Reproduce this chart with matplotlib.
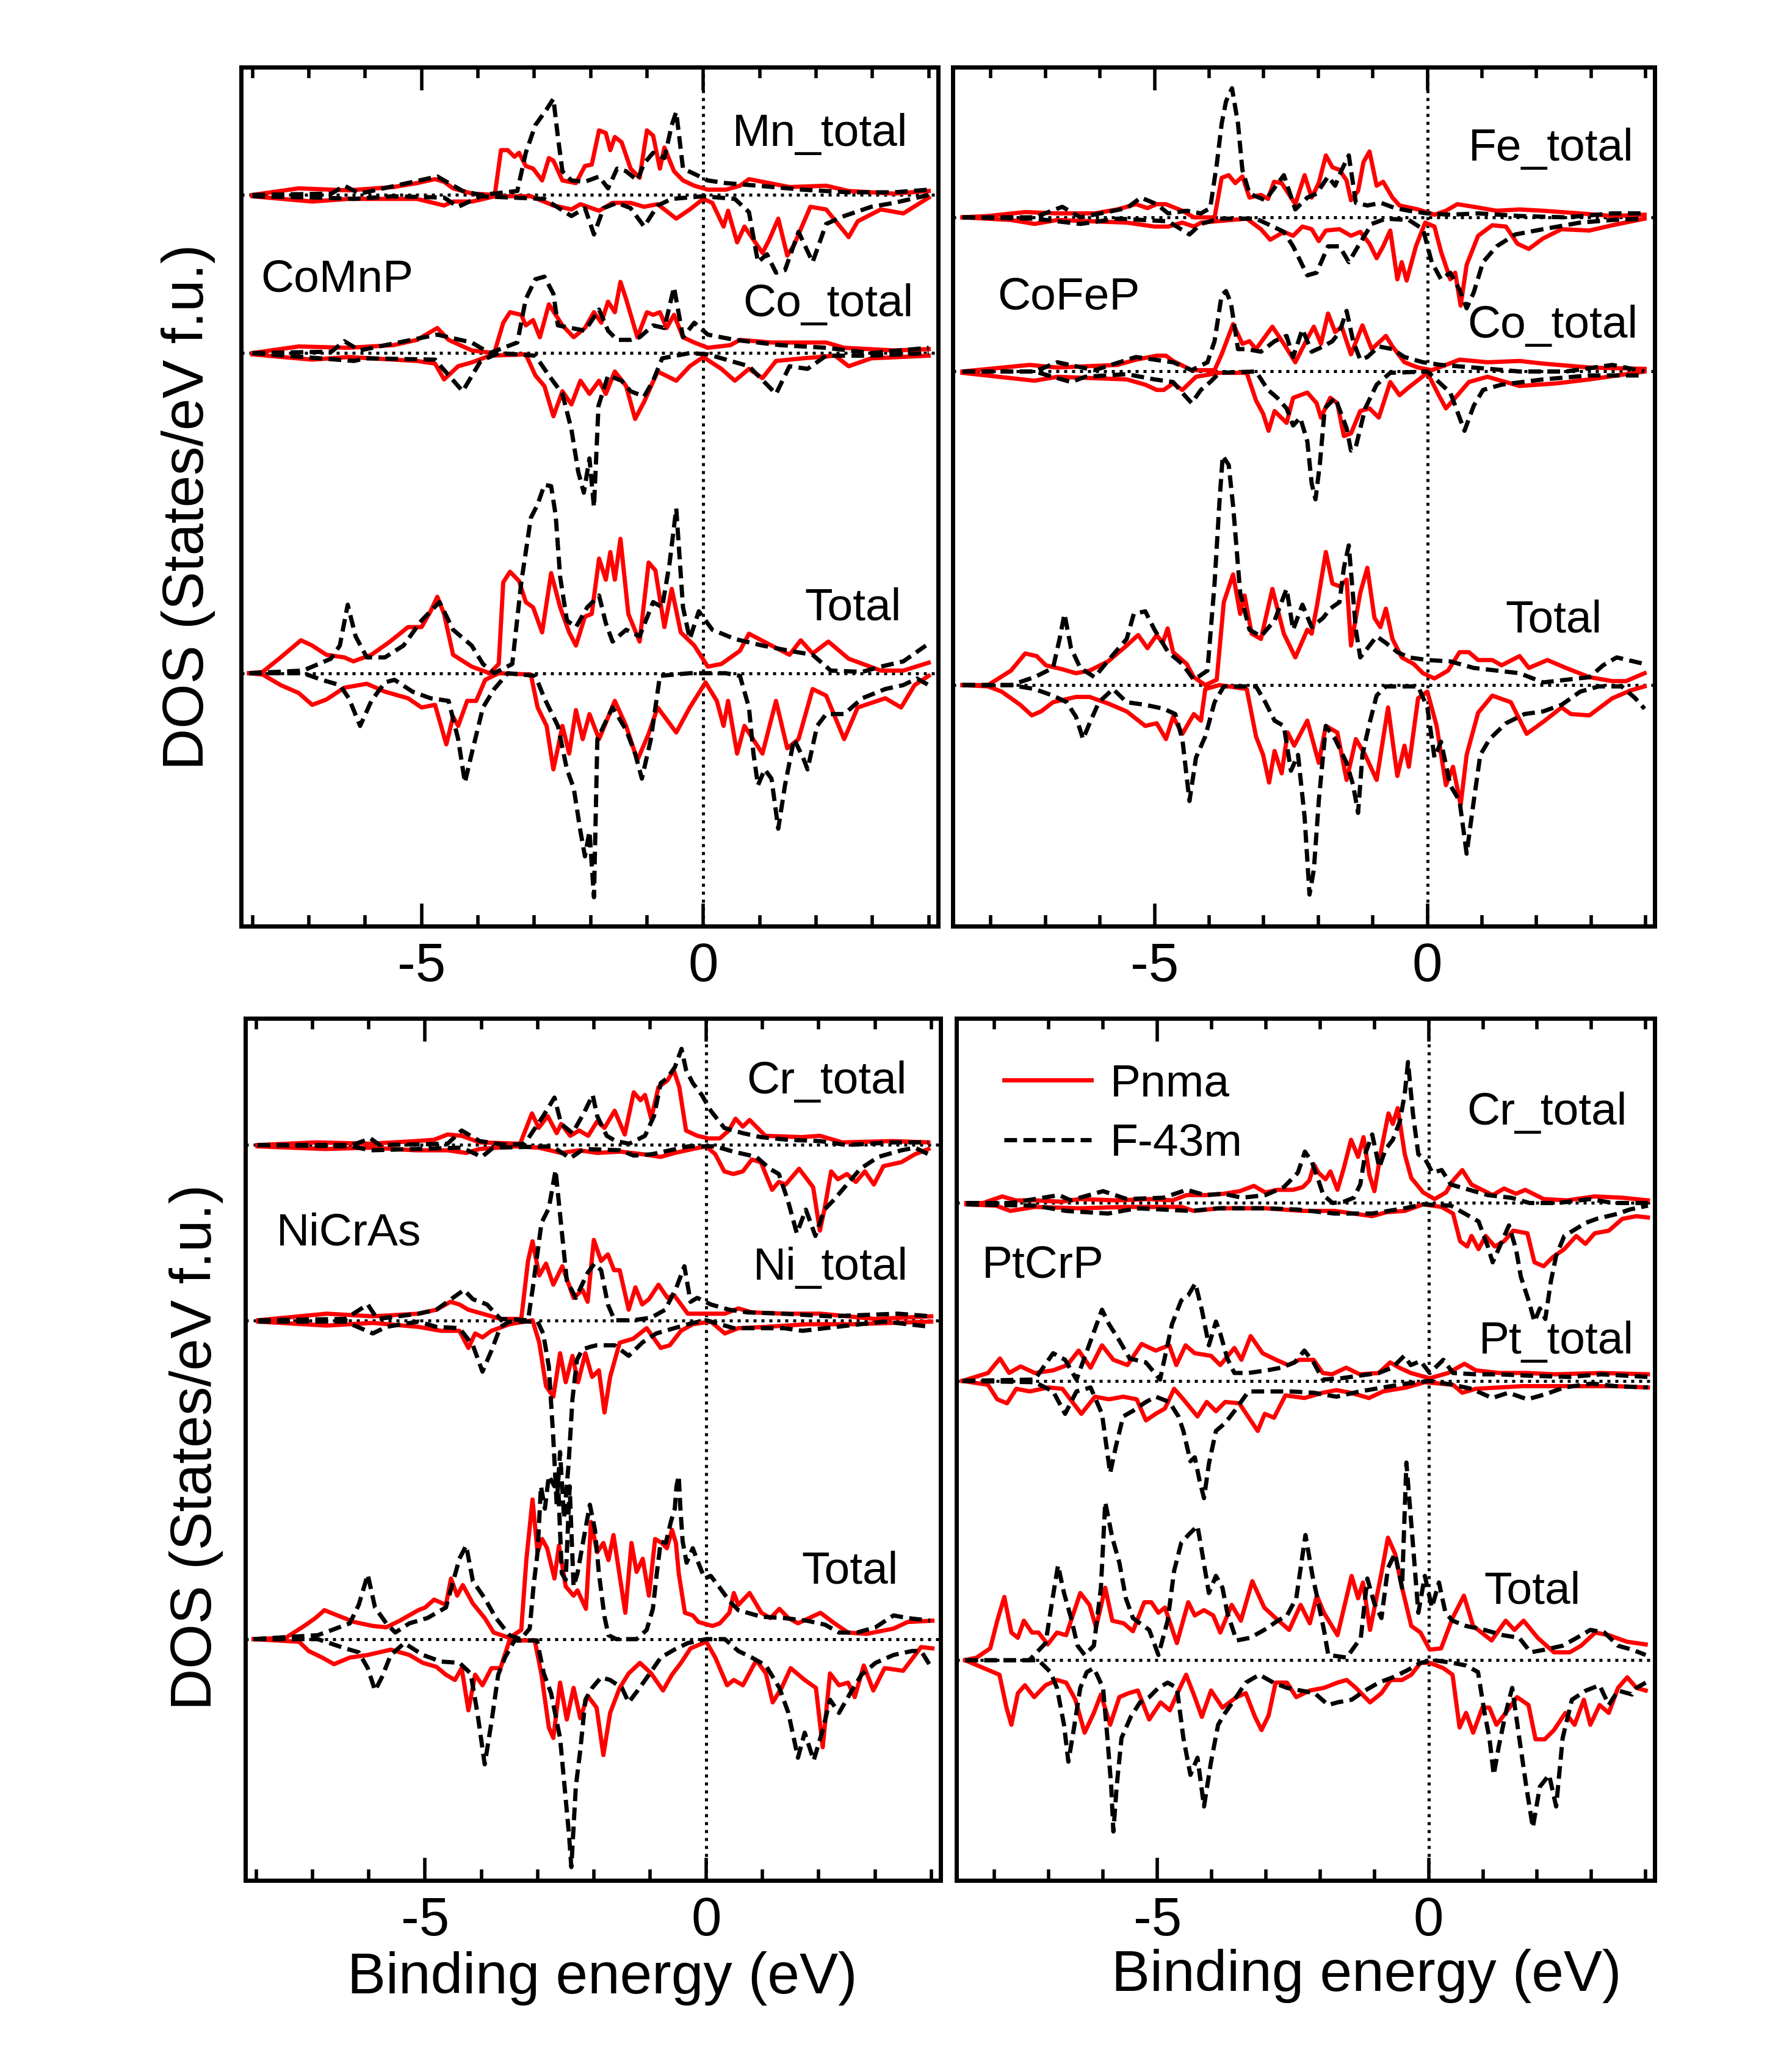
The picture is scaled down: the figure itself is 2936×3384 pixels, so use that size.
import numpy as np
import matplotlib
matplotlib.use('Agg')
import matplotlib.pyplot as plt
from matplotlib.ticker import MultipleLocator
from matplotlib.lines import Line2D

plt.rcParams['font.family'] = ['Liberation Sans', 'DejaVu Sans']
plt.rcParams['axes.unicode_minus'] = False

# ---- data: (energy eV, DOS arb. units), spin-down given as magnitude ----
# CoMnP
comnp_mn_pnma_up = [(-8.0,0),(-7.18,5),(-6.3,3.5),(-5.5,6),(-5.08,9),(-4.76,12),(-4.6,10),(-4.44,5),(-4.1,1),(-3.7,0),(-3.59,34),(-3.47,34),(-3.35,29),(-3.27,32),(-3.15,22),(-3.02,20),(-2.86,11),(-2.74,28),(-2.66,26),(-2.5,11),(-2.26,9),(-2.1,22),(-1.98,23),(-1.85,49),(-1.73,47),(-1.65,34),(-1.57,44),(-1.45,40),(-1.29,20),(-1.13,13),(-1.0,49),(-0.89,45),(-0.77,20),(-0.69,36),(-0.52,18),(-0.36,11),(-0.16,7),(0.08,4),(0.4,4),(0.65,7),(0.81,12),(1.05,10),(1.53,6),(2.18,7),(2.58,3),(3.39,1),(4.0,3)]
comnp_mn_pnma_dn = [(-8.0,1),(-6.94,5),(-6.3,3),(-5.08,3),(-4.6,8),(-4.44,5),(-4.1,5),(-3.7,1),(-3.06,1),(-2.66,8),(-2.34,11),(-2.18,7),(-1.85,12),(-1.61,6),(-1.29,6),(-1.05,9),(-0.81,7),(-0.48,18),(-0.24,11),(0.0,3),(0.16,6),(0.36,24),(0.44,12),(0.6,36),(0.73,24),(1.05,44),(1.17,34),(1.33,18),(1.49,46),(1.61,38),(1.9,9),(2.18,11),(2.58,32),(2.74,20),(3.15,11),(3.55,14),(4.0,2)]
comnp_mn_f43m_up = [(-8.0,0),(-6.6,1),(-6.37,7),(-6.1,1),(-4.72,14),(-4.27,3),(-3.95,0),(-3.3,3),(-3.15,32),(-2.98,53),(-2.78,65),(-2.66,73),(-2.58,44),(-2.5,18),(-2.34,11),(-2.1,10),(-1.85,14),(-1.69,5),(-1.53,20),(-1.37,18),(-1.17,11),(-1.05,24),(-0.89,32),(-0.69,28),(-0.56,53),(-0.48,63),(-0.36,20),(-0.16,16),(0.08,11),(0.4,9),(0.97,7),(1.77,4),(2.58,2),(3.39,2),(4.0,4)]
comnp_mn_f43m_dn = [(-8.0,1),(-6.8,2),(-6.2,3),(-5.5,1),(-4.6,2),(-4.35,9),(-3.95,1),(-2.82,3),(-2.34,16),(-2.1,10),(-1.94,30),(-1.77,10),(-1.53,6),(-1.29,10),(-1.05,24),(-0.81,8),(-0.56,3),(0.0,1),(0.56,3),(0.81,13),(0.97,51),(1.13,45),(1.29,59),(1.45,57),(1.69,28),(1.94,51),(2.18,22),(2.5,16),(2.98,9),(3.39,6),(4.0,0)]
comnp_co_pnma_up = [(-8.0,0),(-7.18,5),(-6.3,4),(-5.5,6),(-5.08,10),(-4.72,19),(-4.52,10),(-4.11,2),(-3.71,0),(-3.55,23),(-3.43,31),(-3.23,29),(-3.15,21),(-3.02,25),(-2.9,12),(-2.74,37),(-2.62,29),(-2.5,21),(-2.3,12),(-2.1,19),(-1.94,31),(-1.81,23),(-1.69,39),(-1.57,31),(-1.47,54),(-1.37,41),(-1.17,12),(-1.0,31),(-0.89,29),(-0.77,31),(-0.65,19),(-0.52,29),(-0.36,12),(-0.16,8),(0.08,4),(0.48,6),(0.65,10),(1.21,8),(1.69,8),(2.18,8),(2.5,4),(3.39,2),(4.0,3)]
comnp_co_pnma_dn = [(-8.0,1),(-6.94,5),(-6.3,3),(-5.08,6),(-4.76,8),(-4.6,20),(-4.35,10),(-4.1,7),(-3.79,2),(-3.15,1),(-2.98,17),(-2.82,25),(-2.66,48),(-2.5,29),(-2.34,39),(-2.18,21),(-2.02,31),(-1.85,21),(-1.73,31),(-1.57,14),(-1.37,25),(-1.21,50),(-1.05,37),(-0.81,14),(-0.48,21),(-0.24,10),(0.0,3),(0.32,12),(0.56,21),(0.81,12),(1.05,19),(1.29,6),(1.77,4),(2.34,2),(2.58,10),(2.98,4),(4.0,2)]
comnp_co_f43m_up = [(-8.0,0),(-6.6,1),(-6.37,9),(-6.1,2),(-4.72,14),(-4.11,8),(-3.79,0),(-3.3,8),(-3.15,41),(-2.98,56),(-2.82,58),(-2.66,45),(-2.58,21),(-2.34,19),(-2.1,17),(-1.85,33),(-1.69,17),(-1.53,10),(-1.29,10),(-1.13,12),(-0.89,21),(-0.69,19),(-0.52,50),(-0.36,12),(-0.16,23),(0.08,14),(0.56,10),(1.37,6),(2.18,4),(2.98,0),(4.0,4)]
comnp_co_f43m_dn = [(-8.0,0),(-6.2,6),(-6.0,4),(-4.76,5),(-4.27,29),(-3.95,6),(-3.63,0),(-2.98,2),(-2.74,17),(-2.5,31),(-2.34,58),(-2.22,90),(-2.12,106),(-2.02,80),(-1.94,117),(-1.86,40),(-1.69,17),(-1.45,21),(-1.29,29),(-1.05,33),(-0.89,21),(-0.73,4),(-0.24,0),(0.08,1),(0.81,10),(1.29,31),(1.53,10),(1.85,12),(2.18,2),(2.98,2),(4.0,0)]
comnp_tot_pnma_up = [(-8.06,0),(-7.82,1),(-7.5,12),(-7.14,25),(-6.94,21),(-6.69,14),(-6.37,12),(-6.21,9),(-5.89,14),(-5.56,24),(-5.24,35),(-5.0,35),(-4.84,47),(-4.72,58),(-4.6,45),(-4.44,14),(-4.11,5),(-3.79,0),(-3.63,7),(-3.55,69),(-3.43,77),(-3.27,70),(-3.15,54),(-3.02,50),(-2.86,31),(-2.7,76),(-2.54,50),(-2.38,31),(-2.26,21),(-2.1,43),(-1.98,45),(-1.85,87),(-1.73,71),(-1.65,92),(-1.57,71),(-1.47,102),(-1.33,45),(-1.13,24),(-0.97,84),(-0.85,78),(-0.69,35),(-0.56,64),(-0.4,31),(-0.16,21),(0.08,5),(0.32,7),(0.65,17),(0.81,30),(1.21,21),(1.53,14),(1.73,25),(1.94,15),(2.22,24),(2.58,11),(3.15,2),(3.55,2),(4.0,8)]
comnp_tot_pnma_dn = [(-8.06,0),(-7.82,1),(-7.5,9),(-7.18,15),(-6.94,24),(-6.69,20),(-6.37,11),(-5.97,8),(-5.65,14),(-5.24,19),(-5.0,26),(-4.76,24),(-4.56,54),(-4.44,33),(-4.35,40),(-4.19,21),(-4.03,21),(-3.87,5),(-3.63,0),(-3.06,1),(-2.94,26),(-2.78,40),(-2.66,73),(-2.5,40),(-2.38,61),(-2.26,28),(-2.14,50),(-2.02,31),(-1.85,50),(-1.57,21),(-1.37,40),(-1.17,66),(-0.97,46),(-0.81,26),(-0.48,45),(-0.24,26),(0.04,7),(0.24,21),(0.36,40),(0.44,21),(0.6,61),(0.73,40),(1.05,61),(1.29,21),(1.49,57),(1.69,50),(1.94,12),(2.18,17),(2.5,50),(2.74,26),(3.23,19),(3.51,26),(3.75,9),(4.0,2)]
comnp_tot_f43m_up = [(-8.06,0),(-7.1,2),(-6.61,11),(-6.45,21),(-6.31,52),(-6.17,28),(-5.97,12),(-5.65,12),(-5.32,21),(-5.0,40),(-4.68,54),(-4.44,33),(-4.11,21),(-3.91,7),(-3.71,0),(-3.39,7),(-3.23,69),(-3.06,118),(-2.94,128),(-2.82,143),(-2.7,142),(-2.62,120),(-2.54,73),(-2.42,40),(-2.26,35),(-2.06,50),(-1.85,59),(-1.73,38),(-1.61,24),(-1.37,33),(-1.13,28),(-0.89,54),(-0.73,50),(-0.6,83),(-0.48,125),(-0.36,50),(-0.24,26),(-0.08,47),(0.16,33),(0.56,26),(1.05,21),(1.53,17),(1.94,14),(2.26,2),(2.82,1),(3.15,5),(3.55,9),(3.95,21)]
comnp_tot_f43m_dn = [(-8.06,0),(-7.1,0),(-6.77,5),(-6.45,9),(-6.29,19),(-6.09,40),(-5.89,21),(-5.65,7),(-5.48,5),(-5.16,14),(-4.84,19),(-4.52,21),(-4.35,50),(-4.23,83),(-4.11,61),(-3.91,26),(-3.71,12),(-3.47,0),(-2.98,2),(-2.82,19),(-2.58,40),(-2.42,73),(-2.3,87),(-2.18,120),(-2.1,139),(-2.02,120),(-1.94,170),(-1.88,50),(-1.61,26),(-1.37,43),(-1.21,61),(-1.09,80),(-0.93,50),(-0.77,2),(-0.24,0),(0.4,0),(0.65,2),(0.81,26),(0.89,61),(0.97,85),(1.09,73),(1.21,80),(1.33,118),(1.45,85),(1.61,50),(1.77,64),(1.85,73),(2.02,40),(2.18,31),(2.5,31),(2.82,19),(3.23,12),(3.55,9),(3.79,4),(4.0,9)]

# CoFeP
cofep_fe_pnma_up = [(-8.52,0),(-8.05,1),(-7.37,4),(-6.78,3),(-6.1,3),(-5.68,6),(-5.34,10),(-5.13,7),(-4.96,10),(-4.79,10),(-4.49,5),(-4.28,0),(-3.9,0),(-3.77,30),(-3.64,32),(-3.52,26),(-3.39,31),(-3.26,15),(-3.05,17),(-2.92,14),(-2.81,27),(-2.67,26),(-2.42,10),(-2.25,32),(-2.12,15),(-1.99,26),(-1.86,47),(-1.74,38),(-1.61,36),(-1.48,28),(-1.4,13),(-1.27,20),(-1.17,42),(-1.06,50),(-0.93,24),(-0.81,27),(-0.64,15),(-0.51,9),(-0.17,6),(0.13,2),(0.34,5),(0.55,10),(0.85,8),(1.27,5),(1.69,6),(2.12,5),(2.8,3),(3.39,1),(3.98,2)]
cofep_fe_pnma_dn = [(-8.52,0),(-7.63,2),(-7.2,5),(-6.78,2),(-5.51,4),(-5.0,7),(-4.75,7),(-4.49,4),(-4.28,7),(-4.15,4),(-3.31,1),(-3.05,9),(-2.88,17),(-2.63,11),(-2.46,14),(-2.29,7),(-2.12,9),(-1.99,18),(-1.86,10),(-1.61,9),(-1.4,14),(-1.23,11),(-1.06,20),(-0.93,31),(-0.81,22),(-0.68,10),(-0.55,47),(-0.47,34),(-0.38,48),(-0.21,22),(-0.04,4),(0.13,7),(0.25,26),(0.42,47),(0.51,42),(0.61,67),(0.72,36),(0.93,14),(1.19,6),(1.44,7),(1.65,20),(1.86,24),(2.12,16),(2.46,9),(2.97,10),(3.39,6),(3.98,1)]
cofep_fe_f43m_up = [(-8.52,0),(-7.2,0),(-6.69,8),(-6.36,0),(-5.51,7),(-5.25,15),(-4.96,10),(-4.75,3),(-4.41,5),(-4.15,3),(-3.98,7),(-3.86,40),(-3.77,71),(-3.69,88),(-3.58,98),(-3.47,71),(-3.39,36),(-3.26,18),(-2.97,13),(-2.63,32),(-2.42,6),(-2.2,15),(-2.03,18),(-1.82,31),(-1.69,24),(-1.57,36),(-1.44,47),(-1.31,11),(-1.1,9),(-0.85,11),(-0.59,7),(-0.34,5),(0.0,3),(0.42,2),(0.93,3),(1.69,1),(2.54,0),(3.39,3),(3.98,3)]
cofep_fe_f43m_dn = [(-8.52,0),(-7.2,1),(-6.36,5),(-5.68,1),(-4.75,3),(-4.36,13),(-4.15,5),(-3.81,1),(-3.14,1),(-2.88,6),(-2.63,11),(-2.46,22),(-2.2,44),(-2.03,42),(-1.82,22),(-1.61,22),(-1.44,34),(-1.27,22),(-1.02,5),(-0.76,1),(-0.34,2),(-0.08,9),(0.08,34),(0.25,47),(0.42,42),(0.59,55),(0.72,69),(0.85,57),(1.02,34),(1.27,22),(1.61,13),(2.12,9),(2.8,4),(3.39,2),(3.98,1)]
cofep_co_pnma_up = [(-8.52,0),(-7.29,5),(-6.78,3),(-5.68,5),(-5.34,9),(-4.96,12),(-4.79,12),(-4.66,8),(-4.32,1),(-3.9,1),(-3.77,13),(-3.56,36),(-3.39,21),(-3.26,23),(-3.14,17),(-2.84,34),(-2.63,21),(-2.42,7),(-2.2,25),(-2.08,34),(-1.95,21),(-1.82,44),(-1.69,30),(-1.57,34),(-1.4,13),(-1.19,35),(-1.02,17),(-0.76,27),(-0.64,19),(-0.42,7),(-0.17,3),(0.08,1),(0.34,5),(0.59,9),(1.1,7),(1.69,8),(2.12,6),(2.97,3),(3.98,2)]
cofep_co_pnma_dn = [(-8.52,1),(-7.2,7),(-6.78,4),(-5.51,6),(-5.17,10),(-4.96,14),(-4.83,14),(-4.66,9),(-4.49,14),(-4.24,4),(-3.81,1),(-3.31,1),(-3.14,22),(-3.01,32),(-2.91,45),(-2.8,30),(-2.58,39),(-2.46,20),(-2.2,16),(-2.03,24),(-1.95,35),(-1.78,20),(-1.65,24),(-1.53,49),(-1.4,47),(-1.23,30),(-1.06,28),(-0.89,35),(-0.68,8),(-0.51,18),(-0.34,12),(0.0,1),(0.21,18),(0.34,28),(0.51,20),(0.76,8),(1.1,4),(1.69,11),(2.37,9),(2.97,6),(3.98,0)]
cofep_co_f43m_up = [(-8.52,0),(-7.2,0),(-6.78,7),(-6.1,1),(-5.34,11),(-5.0,9),(-4.66,7),(-4.32,1),(-4.03,7),(-3.9,23),(-3.77,58),(-3.69,61),(-3.6,52),(-3.47,17),(-3.31,17),(-3.05,15),(-2.8,23),(-2.58,27),(-2.46,11),(-2.29,32),(-2.12,15),(-1.91,19),(-1.74,23),(-1.61,30),(-1.48,46),(-1.36,23),(-1.23,9),(-1.1,11),(-0.89,19),(-0.64,17),(-0.42,11),(-0.08,7),(0.25,5),(0.85,3),(1.69,0),(2.54,0),(3.39,5),(3.98,0)]
cofep_co_f43m_dn = [(-8.52,0),(-7.2,0),(-6.53,8),(-6.27,4),(-5.51,2),(-5.0,6),(-4.66,8),(-4.45,18),(-4.32,24),(-4.15,14),(-3.98,8),(-3.81,1),(-3.14,0),(-2.92,14),(-2.75,20),(-2.58,28),(-2.46,41),(-2.33,35),(-2.2,53),(-2.12,85),(-2.05,97),(-1.97,70),(-1.88,28),(-1.69,20),(-1.48,43),(-1.4,60),(-1.31,57),(-1.14,28),(-0.93,10),(-0.68,1),(0.0,0),(0.42,16),(0.68,45),(0.85,26),(1.02,14),(1.36,10),(2.12,6),(2.97,3),(3.98,3)]
cofep_tot_pnma_up = [(-8.52,0),(-8.05,0),(-7.63,11),(-7.37,24),(-7.16,22),(-6.99,15),(-6.69,12),(-6.44,9),(-6.19,11),(-5.85,18),(-5.51,30),(-5.3,38),(-5.13,28),(-4.96,38),(-4.85,32),(-4.76,43),(-4.66,25),(-4.41,16),(-4.28,6),(-4.07,0),(-3.86,4),(-3.73,63),(-3.56,84),(-3.43,54),(-3.35,68),(-3.22,39),(-3.05,35),(-2.84,73),(-2.63,39),(-2.42,21),(-2.2,42),(-2.12,39),(-2.02,61),(-1.86,101),(-1.74,77),(-1.61,75),(-1.48,80),(-1.4,30),(-1.23,70),(-1.1,89),(-0.97,51),(-0.86,44),(-0.76,58),(-0.64,35),(-0.47,21),(-0.25,16),(-0.08,9),(0.13,5),(0.38,11),(0.59,25),(0.76,25),(0.93,19),(1.19,19),(1.36,15),(1.69,22),(1.86,13),(2.2,19),(2.54,13),(2.97,6),(3.39,3),(3.64,3),(3.98,9)]
cofep_tot_pnma_dn = [(-8.52,0),(-8.05,1),(-7.8,5),(-7.46,15),(-7.25,23),(-7.08,20),(-6.86,13),(-6.44,9),(-6.19,9),(-5.85,14),(-5.51,20),(-5.17,31),(-4.96,29),(-4.79,41),(-4.66,24),(-4.49,37),(-4.28,22),(-4.15,27),(-4.07,3),(-3.81,0),(-3.31,3),(-3.14,39),(-3.01,53),(-2.9,74),(-2.8,50),(-2.67,67),(-2.56,36),(-2.44,46),(-2.2,27),(-1.99,59),(-1.86,31),(-1.65,36),(-1.48,72),(-1.31,41),(-1.14,53),(-0.93,72),(-0.72,17),(-0.55,69),(-0.42,46),(-0.34,62),(-0.17,10),(0.0,5),(0.17,31),(0.34,76),(0.47,62),(0.61,91),(0.72,53),(0.93,21),(1.19,8),(1.53,13),(1.82,37),(2.12,28),(2.46,17),(2.63,22),(2.97,23),(3.39,10),(3.73,4),(3.98,1)]
cofep_tot_f43m_up = [(-8.52,0),(-7.63,0),(-7.2,6),(-6.86,13),(-6.74,35),(-6.65,54),(-6.53,28),(-6.36,13),(-6.1,6),(-5.76,23),(-5.51,35),(-5.38,54),(-5.17,56),(-5.0,42),(-4.75,25),(-4.49,16),(-4.28,4),(-4.03,11),(-3.9,77),(-3.81,139),(-3.75,174),(-3.64,167),(-3.56,136),(-3.43,70),(-3.26,42),(-3.05,37),(-2.8,49),(-2.58,73),(-2.46,42),(-2.29,61),(-2.12,44),(-1.91,51),(-1.78,58),(-1.61,63),(-1.53,89),(-1.44,106),(-1.31,42),(-1.23,21),(-1.06,30),(-0.93,37),(-0.76,32),(-0.55,25),(-0.34,21),(0.0,19),(0.42,18),(0.85,13),(1.27,11),(1.69,9),(2.12,2),(2.54,4),(2.97,6),(3.22,15),(3.47,21),(3.98,16)]
cofep_tot_f43m_dn = [(-8.52,0),(-7.63,0),(-7.2,3),(-6.86,8),(-6.61,13),(-6.44,24),(-6.31,41),(-6.19,29),(-6.02,13),(-5.76,3),(-5.51,13),(-5.17,15),(-4.83,18),(-4.62,22),(-4.49,41),(-4.36,88),(-4.24,55),(-4.07,39),(-3.9,13),(-3.73,1),(-3.14,1),(-2.97,13),(-2.8,27),(-2.63,31),(-2.5,65),(-2.37,53),(-2.25,100),(-2.16,159),(-2.08,140),(-1.99,88),(-1.86,31),(-1.69,41),(-1.48,59),(-1.36,76),(-1.27,97),(-1.19,53),(-1.06,29),(-0.93,8),(-0.76,1),(-0.17,1),(0.0,17),(0.13,55),(0.25,43),(0.42,76),(0.59,88),(0.72,128),(0.85,88),(0.97,53),(1.14,41),(1.44,29),(1.78,22),(2.12,20),(2.46,15),(2.8,5),(3.14,1),(3.56,1),(3.81,10),(3.98,18)]

# NiCrAs
nicras_cr_pnma_up = [(-7.98,0),(-6.94,2),(-5.97,1),(-5.16,3),(-4.84,4),(-4.6,8),(-4.35,7),(-4.03,2),(-3.31,1),(-3.1,24),(-2.98,13),(-2.82,22),(-2.66,9),(-2.58,16),(-2.42,7),(-2.26,11),(-2.1,7),(-1.94,18),(-1.81,13),(-1.63,26),(-1.45,8),(-1.29,40),(-1.17,34),(-1.09,38),(-0.98,20),(-0.85,44),(-0.69,49),(-0.58,57),(-0.48,44),(-0.36,11),(-0.16,7),(0.04,5),(0.24,5),(0.4,11),(0.52,20),(0.65,14),(0.77,19),(1.05,7),(1.69,6),(2.02,7),(2.42,2),(3.31,3),(3.95,2)]
nicras_cr_pnma_dn = [(-7.98,1),(-6.78,3),(-5.97,2),(-5.16,4),(-4.6,4),(-4.27,6),(-4.03,3),(-3.39,1),(-2.98,2),(-2.58,6),(-2.26,4),(-1.94,6),(-1.53,5),(-1.13,7),(-0.81,9),(-0.56,6),(-0.24,3),(0.0,1),(0.16,7),(0.32,20),(0.48,22),(0.65,20),(0.81,11),(0.97,13),(1.17,34),(1.29,28),(1.41,30),(1.65,18),(1.9,32),(2.02,65),(2.1,49),(2.22,20),(2.34,26),(2.5,22),(2.66,28),(2.82,20),(2.98,30),(3.15,16),(3.47,13),(3.71,7),(3.95,3)]
nicras_cr_f43m_up = [(-7.98,0),(-6.3,0),(-5.97,5),(-5.81,0),(-4.6,1),(-4.35,11),(-4.03,3),(-3.55,0),(-3.23,1),(-2.9,22),(-2.7,36),(-2.58,16),(-2.38,9),(-2.18,24),(-2.02,38),(-1.94,22),(-1.77,7),(-1.61,3),(-1.37,1),(-1.09,7),(-0.93,22),(-0.81,47),(-0.69,51),(-0.56,59),(-0.44,73),(-0.36,57),(-0.24,47),(-0.08,38),(0.08,26),(0.32,13),(0.65,9),(0.97,6),(1.45,4),(2.02,3),(2.5,0),(3.31,2),(3.95,2)]
nicras_cr_f43m_dn = [(-7.98,0),(-6.3,1),(-5.97,4),(-5.16,3),(-4.35,2),(-3.99,9),(-3.79,2),(-2.74,1),(-2.42,10),(-2.18,3),(-1.53,4),(-1.29,8),(-0.97,7),(-0.32,1),(0.16,1),(0.48,5),(0.89,9),(1.13,18),(1.29,22),(1.45,42),(1.61,67),(1.77,49),(1.94,69),(2.1,49),(2.26,42),(2.5,30),(2.74,18),(3.06,9),(3.47,4),(3.71,2),(3.95,7)]
nicras_ni_pnma_up = [(-7.97,0),(-6.75,5),(-5.93,3),(-5.12,5),(-4.8,8),(-4.55,14),(-4.39,12),(-4.23,8),(-3.98,5),(-3.66,1),(-3.29,1),(-3.17,45),(-3.09,60),(-2.97,34),(-2.85,43),(-2.72,27),(-2.56,41),(-2.36,17),(-2.2,23),(-2.11,14),(-2.0,61),(-1.87,45),(-1.75,50),(-1.64,38),(-1.54,38),(-1.38,8),(-1.26,25),(-1.14,12),(-1.02,16),(-0.85,27),(-0.69,17),(-0.57,19),(-0.33,5),(0.0,5),(0.33,5),(0.57,9),(0.81,6),(1.38,5),(2.03,5),(3.0,1),(4.0,3)]
nicras_ni_pnma_dn = [(-7.97,1),(-6.75,4),(-5.93,2),(-5.12,5),(-4.72,8),(-4.39,8),(-4.23,21),(-4.11,10),(-3.98,13),(-3.82,8),(-3.5,3),(-3.09,0),(-2.97,17),(-2.85,50),(-2.72,58),(-2.6,25),(-2.5,47),(-2.38,27),(-2.28,47),(-2.15,25),(-2.03,43),(-1.91,38),(-1.81,70),(-1.71,43),(-1.54,17),(-1.3,14),(-1.06,6),(-0.81,21),(-0.65,19),(-0.45,8),(-0.24,3),(0.08,1),(0.33,10),(0.57,6),(1.06,5),(1.79,3),(2.6,3),(4.0,1)]
nicras_ni_f43m_up = [(-7.97,0),(-6.42,1),(-6.02,12),(-5.85,1),(-5.12,5),(-4.8,8),(-4.31,23),(-4.15,16),(-3.9,12),(-3.66,1),(-3.17,0),(-3.09,23),(-2.93,74),(-2.8,85),(-2.68,114),(-2.59,76),(-2.48,30),(-2.32,17),(-2.11,36),(-1.99,43),(-1.87,38),(-1.75,12),(-1.63,0),(-1.3,0),(-0.98,2),(-0.73,8),(-0.53,25),(-0.39,41),(-0.28,14),(-0.16,17),(0.08,12),(0.41,8),(0.73,6),(1.38,5),(2.2,3),(3.41,5),(4.0,3)]
nicras_ni_f43m_dn = [(-7.97,1),(-6.42,1),(-5.93,10),(-5.69,5),(-5.12,1),(-4.8,5),(-4.39,6),(-4.15,19),(-3.98,39),(-3.82,23),(-3.66,5),(-3.5,1),(-3.0,1),(-2.9,10),(-2.8,35),(-2.72,90),(-2.66,140),(-2.6,100),(-2.53,150),(-2.45,110),(-2.38,60),(-2.3,30),(-2.2,22),(-2.05,20),(-1.95,19),(-1.63,19),(-1.38,27),(-1.14,17),(-0.89,10),(-0.57,6),(-0.24,2),(0.0,0),(0.49,6),(1.38,6),(1.71,8),(2.11,6),(2.52,4),(3.17,1),(4.0,5)]
nicras_tot_pnma_up = [(-8.05,0),(-7.48,1),(-7.15,10),(-6.95,16),(-6.79,22),(-6.5,17),(-6.26,13),(-5.93,10),(-5.69,9),(-5.45,14),(-5.12,22),(-5.0,24),(-4.84,30),(-4.63,26),(-4.54,46),(-4.43,33),(-4.33,41),(-4.15,27),(-3.94,16),(-3.78,5),(-3.5,1),(-3.29,7),(-3.2,60),(-3.09,106),(-3.0,66),(-2.92,76),(-2.83,69),(-2.7,46),(-2.62,71),(-2.5,40),(-2.36,33),(-2.29,37),(-2.14,23),(-2.05,89),(-1.94,66),(-1.83,73),(-1.74,60),(-1.65,79),(-1.44,20),(-1.33,73),(-1.24,51),(-1.13,61),(-1.02,33),(-0.91,76),(-0.79,73),(-0.7,69),(-0.61,83),(-0.54,73),(-0.49,50),(-0.38,20),(-0.24,18),(-0.14,13),(0.11,10),(0.24,12),(0.41,20),(0.49,35),(0.57,26),(0.77,35),(0.98,20),(1.14,16),(1.3,23),(1.46,16),(1.63,12),(2.03,20),(2.28,12),(2.52,5),(2.85,4),(3.33,8),(3.58,13),(4.02,14)]
nicras_tot_pnma_dn = [(-8.05,0),(-7.24,2),(-7.07,9),(-6.83,14),(-6.62,19),(-6.34,14),(-6.02,12),(-5.61,8),(-5.28,12),(-5.04,18),(-4.8,21),(-4.63,27),(-4.47,31),(-4.35,22),(-4.23,54),(-4.11,27),(-3.98,35),(-3.82,22),(-3.66,22),(-3.5,1),(-3.05,1),(-2.93,27),(-2.8,67),(-2.72,75),(-2.6,33),(-2.48,61),(-2.36,37),(-2.24,60),(-2.11,43),(-1.95,52),(-1.83,88),(-1.71,56),(-1.54,37),(-1.38,26),(-1.18,18),(-0.98,26),(-0.77,39),(-0.61,27),(-0.45,18),(-0.28,7),(0.0,2),(0.16,14),(0.37,35),(0.49,31),(0.65,35),(0.89,16),(1.06,26),(1.18,48),(1.34,37),(1.5,22),(1.75,31),(1.95,37),(2.07,82),(2.2,26),(2.36,35),(2.52,33),(2.64,44),(2.8,20),(2.97,39),(3.17,22),(3.5,24),(3.82,6),(4.02,7)]
nicras_tot_f43m_up = [(-8.05,0),(-6.91,3),(-6.59,8),(-6.34,12),(-6.18,26),(-6.02,49),(-5.89,24),(-5.69,12),(-5.53,5),(-5.28,12),(-4.96,16),(-4.63,24),(-4.39,61),(-4.27,71),(-4.15,44),(-3.94,31),(-3.74,16),(-3.5,3),(-3.3,0),(-3.14,8),(-3.07,41),(-3.0,66),(-2.94,116),(-2.87,99),(-2.8,124),(-2.7,116),(-2.64,124),(-2.57,50),(-2.5,45),(-2.43,116),(-2.36,40),(-2.29,50),(-2.19,74),(-2.07,102),(-1.98,83),(-1.91,50),(-1.81,17),(-1.74,3),(-1.6,0),(-1.24,0),(-1.06,7),(-0.95,23),(-0.88,50),(-0.81,74),(-0.72,73),(-0.63,89),(-0.56,99),(-0.53,116),(-0.49,124),(-0.46,99),(-0.42,74),(-0.35,58),(-0.24,69),(-0.17,61),(-0.03,46),(0.08,48),(0.24,39),(0.41,29),(0.57,22),(0.98,17),(1.38,16),(1.79,14),(2.11,11),(2.36,5),(2.68,5),(3.01,9),(3.33,18),(3.58,16),(3.98,14)]
nicras_tot_f43m_dn = [(-8.05,0),(-6.91,0),(-6.42,7),(-6.18,10),(-6.02,22),(-5.89,39),(-5.77,29),(-5.61,12),(-5.37,3),(-5.04,12),(-4.72,17),(-4.39,18),(-4.19,26),(-4.07,56),(-3.94,95),(-3.82,63),(-3.7,27),(-3.58,14),(-3.41,1),(-3.01,1),(-2.89,26),(-2.76,41),(-2.6,75),(-2.52,112),(-2.44,149),(-2.4,173),(-2.32,112),(-2.24,84),(-2.15,46),(-2.03,37),(-1.87,29),(-1.71,31),(-1.5,37),(-1.38,48),(-1.22,39),(-1.02,27),(-0.81,14),(-0.57,8),(-0.33,3),(0.0,0),(0.33,0),(0.57,9),(0.81,14),(1.06,20),(1.3,37),(1.46,56),(1.63,90),(1.75,71),(1.91,92),(2.07,69),(2.2,46),(2.36,56),(2.56,41),(2.76,27),(3.01,18),(3.33,12),(3.66,9),(3.82,9),(3.98,20)]

# PtCrP
ptcrp_cr_pnma_up = [(-8.52,0),(-8.21,0),(-7.86,5),(-7.61,2),(-7.26,2),(-6.77,1),(-6.43,3),(-5.74,2),(-5.15,3),(-4.72,2),(-4.46,6),(-4.12,6),(-3.78,7),(-3.48,9),(-3.22,13),(-3.01,8),(-2.79,10),(-2.5,10),(-2.32,12),(-2.2,17),(-2.11,29),(-2.03,23),(-1.9,18),(-1.81,24),(-1.68,10),(-1.56,27),(-1.43,48),(-1.3,35),(-1.2,50),(-1.09,21),(-1.0,9),(-0.87,41),(-0.74,68),(-0.66,60),(-0.57,72),(-0.44,37),(-0.32,19),(-0.1,8),(0.11,3),(0.32,8),(0.45,17),(0.62,25),(0.79,14),(1.18,6),(1.39,11),(1.61,7),(1.78,10),(2.12,3),(2.55,2),(3.06,5),(3.57,4),(4.04,2)]
ptcrp_cr_pnma_dn = [(-8.52,1),(-7.97,2),(-7.71,6),(-7.26,3),(-6.43,4),(-5.6,3),(-4.55,3),(-4.33,6),(-3.85,4),(-3.01,4),(-2.32,6),(-1.73,6),(-1.04,10),(-0.78,7),(-0.44,6),(-0.1,1),(0.24,3),(0.45,8),(0.58,29),(0.71,33),(0.79,25),(0.92,35),(1.05,25),(1.22,33),(1.39,29),(1.56,21),(1.82,23),(1.95,45),(2.12,48),(2.29,41),(2.5,35),(2.72,25),(2.89,31),(3.06,23),(3.32,21),(3.57,12),(3.83,10),(4.04,11)]
ptcrp_cr_f43m_up = [(-8.52,0),(-7.71,0),(-6.81,6),(-6.6,2),(-6.0,9),(-5.56,3),(-4.89,4),(-4.46,10),(-4.12,6),(-3.78,7),(-3.44,4),(-3.01,6),(-2.67,12),(-2.41,23),(-2.28,39),(-2.15,31),(-2.03,17),(-1.94,6),(-1.77,0),(-1.56,1),(-1.38,4),(-1.26,14),(-1.17,37),(-1.04,52),(-0.91,27),(-0.79,41),(-0.66,48),(-0.53,62),(-0.44,83),(-0.38,107),(-0.29,68),(-0.19,37),(-0.06,33),(0.07,23),(0.24,25),(0.41,14),(0.75,10),(1.09,6),(1.52,4),(1.86,0),(2.38,0),(2.97,3),(3.4,0),(4.04,0)]
ptcrp_cr_f43m_dn = [(-8.52,1),(-7.26,2),(-6.68,6),(-5.91,8),(-5.38,4),(-4.38,6),(-3.87,4),(-3.01,4),(-2.41,5),(-1.73,8),(-1.04,8),(-0.44,4),(-0.1,1),(0.41,2),(0.92,14),(1.09,33),(1.18,45),(1.31,33),(1.48,17),(1.61,35),(1.7,56),(1.85,75),(1.95,90),(2.05,80),(2.15,88),(2.25,60),(2.35,40),(2.5,25),(2.7,20),(2.9,15),(3.1,12),(3.3,10),(3.5,8),(3.7,5),(4.04,2)]
ptcrp_pt_pnma_up = [(-8.59,0),(-8.12,6),(-7.9,17),(-7.73,6),(-7.52,11),(-7.26,6),(-6.92,8),(-6.66,12),(-6.45,23),(-6.23,10),(-6.02,27),(-5.81,16),(-5.55,12),(-5.29,28),(-5.03,23),(-4.78,27),(-4.65,12),(-4.48,27),(-4.31,21),(-4.01,19),(-3.84,12),(-3.58,25),(-3.45,16),(-3.28,34),(-3.06,21),(-2.81,16),(-2.59,12),(-2.38,16),(-2.12,16),(-1.95,6),(-1.78,5),(-1.52,10),(-1.27,5),(-0.92,6),(-0.71,14),(-0.54,10),(-0.33,6),(0.02,2),(0.36,6),(0.66,13),(0.87,8),(1.3,6),(1.82,6),(2.33,5),(3.18,6),(4.04,5)]
ptcrp_pt_pnma_dn = [(-8.59,0),(-8.12,3),(-7.95,14),(-7.77,17),(-7.6,6),(-7.35,8),(-7.01,5),(-6.75,6),(-6.4,25),(-6.15,12),(-5.89,14),(-5.63,12),(-5.38,14),(-5.21,30),(-5.03,25),(-4.86,21),(-4.69,6),(-4.52,14),(-4.26,27),(-4.09,16),(-3.92,23),(-3.75,16),(-3.49,17),(-3.28,30),(-3.15,38),(-3.02,25),(-2.85,28),(-2.64,11),(-2.29,13),(-1.95,9),(-1.7,7),(-1.44,9),(-1.1,13),(-0.84,8),(-0.41,5),(-0.07,1),(0.45,3),(0.62,9),(0.87,6),(1.3,5),(1.73,4),(2.59,4),(3.44,4),(4.04,5)]
ptcrp_pt_f43m_up = [(-8.59,0),(-7.26,1),(-6.92,21),(-6.7,16),(-6.49,1),(-6.02,54),(-5.89,43),(-5.72,32),(-5.51,17),(-5.21,14),(-4.95,1),(-4.73,43),(-4.56,61),(-4.43,65),(-4.3,74),(-4.18,54),(-4.05,27),(-3.92,45),(-3.84,36),(-3.71,17),(-3.58,6),(-3.32,6),(-2.98,8),(-2.72,10),(-2.47,14),(-2.29,23),(-2.12,14),(-1.95,1),(-1.61,2),(-1.27,4),(-0.92,6),(-0.67,10),(-0.45,19),(-0.33,12),(-0.15,15),(0.02,6),(0.27,16),(0.45,6),(0.87,5),(1.3,5),(1.82,4),(2.59,3),(3.18,5),(4.04,3)]
ptcrp_pt_f43m_dn = [(-8.59,0),(-7.26,1),(-6.92,8),(-6.7,25),(-6.49,8),(-6.23,5),(-6.02,25),(-5.93,52),(-5.87,70),(-5.76,49),(-5.63,27),(-5.46,23),(-5.21,16),(-5.03,12),(-4.78,16),(-4.61,27),(-4.52,38),(-4.39,61),(-4.31,58),(-4.22,76),(-4.14,89),(-4.05,63),(-3.92,38),(-3.75,32),(-3.58,23),(-3.32,8),(-2.98,8),(-2.55,8),(-2.12,9),(-1.7,12),(-1.27,8),(-0.84,5),(-0.41,2),(0.02,0),(0.45,3),(0.79,6),(1.17,13),(1.47,9),(1.82,14),(2.16,10),(2.5,5),(3.01,2),(3.44,4),(4.04,5)]
ptcrp_tot_pnma_up = [(-8.54,0),(-8.33,2),(-8.08,9),(-7.95,30),(-7.82,48),(-7.69,21),(-7.57,17),(-7.46,30),(-7.31,21),(-7.19,21),(-7.02,12),(-6.85,21),(-6.68,19),(-6.42,51),(-6.25,42),(-6.13,25),(-5.96,55),(-5.83,30),(-5.62,28),(-5.45,22),(-5.24,44),(-5.11,44),(-4.98,36),(-4.86,40),(-4.64,13),(-4.43,44),(-4.31,34),(-4.14,38),(-3.97,34),(-3.84,21),(-3.63,42),(-3.46,30),(-3.25,60),(-3.03,40),(-2.82,32),(-2.57,23),(-2.36,42),(-2.19,28),(-2.06,49),(-1.93,36),(-1.68,19),(-1.42,64),(-1.3,47),(-1.21,59),(-1.08,23),(-0.87,66),(-0.75,93),(-0.62,81),(-0.49,55),(-0.32,26),(-0.15,21),(0.02,8),(0.23,9),(0.44,32),(0.65,49),(0.82,26),(1.16,15),(1.42,30),(1.58,23),(1.75,30),(2.01,17),(2.31,6),(2.6,6),(2.81,11),(3.07,21),(3.32,19),(3.66,14),(4.0,12)]
ptcrp_tot_pnma_dn = [(-8.54,0),(-8.2,6),(-7.91,11),(-7.78,36),(-7.69,49),(-7.57,25),(-7.44,19),(-7.27,28),(-7.06,19),(-6.85,15),(-6.68,17),(-6.51,30),(-6.34,55),(-6.17,40),(-6.04,26),(-5.87,49),(-5.7,28),(-5.53,25),(-5.36,23),(-5.15,45),(-4.94,32),(-4.77,38),(-4.64,26),(-4.47,11),(-4.31,28),(-4.18,43),(-4.01,23),(-3.8,36),(-3.54,28),(-3.37,25),(-3.2,43),(-3.08,53),(-2.95,42),(-2.82,17),(-2.61,17),(-2.44,28),(-2.19,23),(-1.93,21),(-1.68,17),(-1.51,15),(-1.34,21),(-1.08,32),(-0.87,25),(-0.7,15),(-0.49,15),(-0.32,11),(-0.15,2),(0.02,2),(0.27,6),(0.44,11),(0.57,51),(0.69,40),(0.82,55),(0.99,36),(1.12,36),(1.25,49),(1.42,40),(1.63,28),(1.84,34),(1.97,60),(2.14,60),(2.31,53),(2.52,40),(2.69,49),(2.86,30),(2.98,49),(3.15,34),(3.32,40),(3.49,21),(3.66,13),(3.83,21),(4.0,23)]
ptcrp_tot_f43m_up = [(-8.54,0),(-7.36,0),(-7.06,13),(-6.93,47),(-6.83,72),(-6.72,51),(-6.59,32),(-6.47,11),(-6.34,4),(-6.17,11),(-6.04,55),(-5.96,120),(-5.83,93),(-5.7,74),(-5.58,47),(-5.45,32),(-5.32,28),(-5.15,23),(-4.98,4),(-4.81,30),(-4.69,68),(-4.56,89),(-4.43,95),(-4.26,102),(-4.18,83),(-4.05,51),(-3.92,64),(-3.8,55),(-3.71,36),(-3.54,15),(-3.29,17),(-3.03,23),(-2.78,30),(-2.61,34),(-2.44,47),(-2.27,95),(-2.14,64),(-2.06,49),(-1.93,23),(-1.85,4),(-1.51,2),(-1.25,17),(-1.13,62),(-1.0,43),(-0.87,32),(-0.75,70),(-0.62,81),(-0.49,55),(-0.41,150),(-0.28,83),(-0.19,36),(-0.07,64),(0.06,40),(0.19,59),(0.31,36),(0.44,30),(0.69,26),(1.03,23),(1.37,19),(1.67,17),(1.88,6),(2.14,8),(2.47,11),(2.73,17),(2.98,23),(3.24,21),(3.49,11),(3.75,8),(4.0,4)]
ptcrp_tot_f43m_dn = [(-8.54,0),(-7.19,0),(-6.97,9),(-6.85,21),(-6.72,49),(-6.64,77),(-6.55,55),(-6.42,21),(-6.3,9),(-6.17,6),(-6.0,21),(-5.92,59),(-5.85,96),(-5.81,130),(-5.75,96),(-5.66,59),(-5.49,43),(-5.32,32),(-5.15,28),(-4.98,21),(-4.81,17),(-4.64,21),(-4.52,59),(-4.39,87),(-4.26,74),(-4.14,111),(-4.01,77),(-3.88,49),(-3.75,40),(-3.58,30),(-3.37,17),(-3.12,11),(-2.86,17),(-2.61,21),(-2.36,23),(-2.1,25),(-1.85,34),(-1.68,32),(-1.42,30),(-1.17,23),(-0.92,17),(-0.66,13),(-0.41,8),(-0.15,2),(0.1,0),(0.44,2),(0.69,4),(0.91,9),(1.03,40),(1.12,59),(1.2,87),(1.29,66),(1.42,40),(1.54,21),(1.67,59),(1.8,96),(1.92,127),(2.05,96),(2.22,87),(2.35,111),(2.47,59),(2.64,30),(2.9,23),(3.15,19),(3.32,34),(3.49,23),(3.75,26),(3.83,21),(4.0,17)]

# ---- layout ----
RED = '#ff0000'
fig = plt.figure(figsize=(29.36, 33.84), dpi=100)

panels = [
    dict(rect=[0.1346, 0.5517, 0.3890, 0.4158], xlim=(-8.2, 4.17), ymax=652,
         name='CoMnP', name_pos=(0.028, 0.753),
         comps=[('Mn_total', 555, (0.956, 0.922), comnp_mn_pnma_up, comnp_mn_pnma_dn, comnp_mn_f43m_up, comnp_mn_f43m_dn),
                ('Co_total', 435, (0.964, 0.724), comnp_co_pnma_up, comnp_co_pnma_dn, comnp_co_f43m_up, comnp_co_f43m_dn),
                ('Total', 192, (0.947, 0.370), comnp_tot_pnma_up, comnp_tot_pnma_dn, comnp_tot_f43m_up, comnp_tot_f43m_dn)]),
    dict(rect=[0.5316, 0.5517, 0.3919, 0.4158], xlim=(-8.7, 4.17), ymax=652,
         name='CoFeP', name_pos=(0.064, 0.732),
         comps=[('Fe_total', 538, (0.970, 0.905), cofep_fe_pnma_up, cofep_fe_pnma_dn, cofep_fe_f43m_up, cofep_fe_f43m_dn),
                ('Co_total', 421, (0.976, 0.699), cofep_co_pnma_up, cofep_co_pnma_dn, cofep_co_f43m_up, cofep_co_f43m_dn),
                ('Total', 183, (0.925, 0.356), cofep_tot_pnma_up, cofep_tot_pnma_dn, cofep_tot_f43m_up, cofep_tot_f43m_dn)]),
    dict(rect=[0.1368, 0.0899, 0.3882, 0.4171], xlim=(-8.2, 4.17), ymax=654,
         name='NiCrAs', name_pos=(0.045, 0.751),
         comps=[('Cr_total', 558, (0.951, 0.927), nicras_cr_pnma_up, nicras_cr_pnma_dn, nicras_cr_f43m_up, nicras_cr_f43m_dn),
                ('Ni_total', 425, (0.953, 0.711), nicras_ni_pnma_up, nicras_ni_pnma_dn, nicras_ni_f43m_up, nicras_ni_f43m_dn),
                ('Total', 183, (0.939, 0.358), nicras_tot_pnma_up, nicras_tot_pnma_dn, nicras_tot_f43m_up, nicras_tot_f43m_dn)]),
    dict(rect=[0.5338, 0.0899, 0.3897, 0.4171], xlim=(-8.7, 4.17), ymax=654,
         name='PtCrP', name_pos=(0.036, 0.713),
         comps=[('Cr_total', 514, (0.960, 0.891), ptcrp_cr_pnma_up, ptcrp_cr_pnma_dn, ptcrp_cr_f43m_up, ptcrp_cr_f43m_dn),
                ('Pt_total', 379, (0.970, 0.625), ptcrp_pt_pnma_up, ptcrp_pt_pnma_dn, ptcrp_pt_f43m_up, ptcrp_pt_f43m_dn),
                ('Total', 167, (0.894, 0.335), ptcrp_tot_pnma_up, ptcrp_tot_pnma_dn, ptcrp_tot_f43m_up, ptcrp_tot_f43m_dn)]),
]

red_kw = dict(color=RED, lw=5.0, zorder=3)
blk_kw = dict(color='black', lw=5.0, dashes=(3.0, 1.5), zorder=4)
dot_kw = dict(color='black', lw=3.6, dashes=(1, 1.6), zorder=2)


def draw(ax, curve, base, sign, **kw):
    e = np.array([p[0] for p in curve])
    d = np.array([p[1] for p in curve], dtype=float)
    ax.plot(e, base + sign * d, **kw)


axes = []
for p in panels:
    ax = fig.add_axes(p['rect'])
    axes.append(ax)
    ax.set_xlim(*p['xlim'])
    ax.set_ylim(0, p['ymax'])
    ax.axvline(0, **dot_kw)
    for label, base, lpos, pu, pd, fu, fd in p['comps']:
        ax.axhline(base, **dot_kw)
        draw(ax, pu, base, 1, **red_kw)
        draw(ax, pd, base, -1, **red_kw)
        draw(ax, fu, base, 1, **blk_kw)
        draw(ax, fd, base, -1, **blk_kw)
        ax.text(lpos[0], lpos[1], label, transform=ax.transAxes,
                ha='right', va='center', fontsize=54)
    ax.text(p['name_pos'][0], p['name_pos'][1], p['name'], transform=ax.transAxes,
            ha='left', va='center', fontsize=54)

    ax.xaxis.set_major_locator(MultipleLocator(5))
    ax.xaxis.set_minor_locator(MultipleLocator(1))
    ax.set_yticks([])
    ax.tick_params(axis='x', which='both', direction='in', top=True, bottom=True,
                   width=4, labelsize=64, pad=18)
    ax.tick_params(axis='x', which='major', length=27)
    ax.tick_params(axis='x', which='minor', length=13)
    for s in ax.spines.values():
        s.set_linewidth(5)

# legend in the PtCrP panel
handles = [Line2D([], [], color=RED, lw=5.0),
           Line2D([], [], color='black', lw=5.0, dashes=(3.0, 1.5))]
axes[3].legend(handles, ['Pnma', 'F-43m'], loc='upper left', bbox_to_anchor=(0.068, 0.948),
               frameon=False, fontsize=54, handlelength=1.9, handletextpad=0.42,
               labelspacing=0.38, borderpad=0, borderaxespad=0)

# axis labels
fig.text(0.1051, 0.7545, 'DOS (States/eV f.u.)', rotation=90, ha='center', va='center', fontsize=68)
fig.text(0.1096, 0.2997, 'DOS (States/eV f.u.)', rotation=90, ha='center', va='center', fontsize=68)
fig.text(0.336, 0.0351, 'Binding energy (eV)', ha='center', va='baseline', fontsize=68)
fig.text(0.7625, 0.0364, 'Binding energy (eV)', ha='center', va='baseline', fontsize=68)

fig.savefig('out.png', dpi=100, facecolor='white')
